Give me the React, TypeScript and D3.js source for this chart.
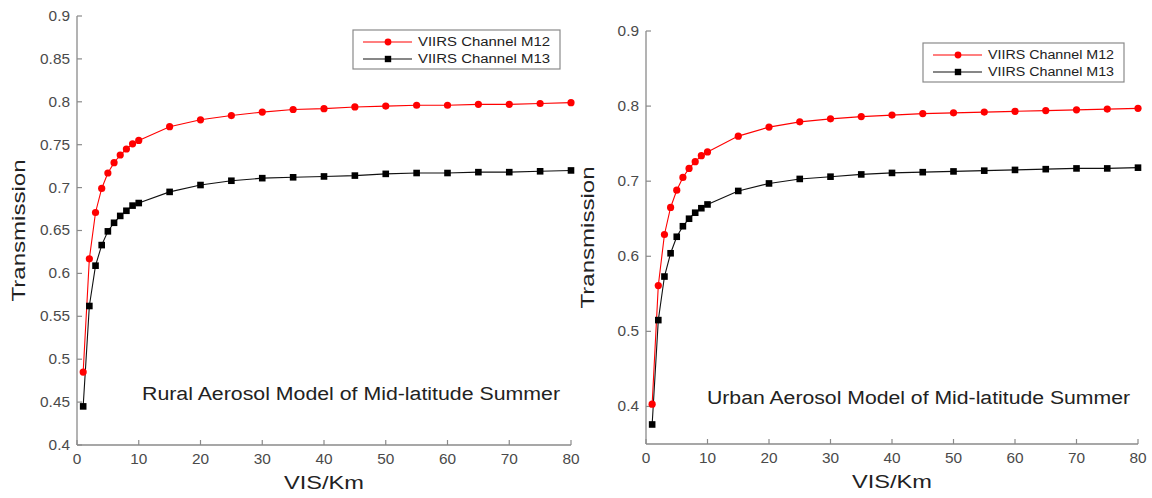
import * as d3 from "d3"

const visKm = [1, 2, 3, 4, 5, 6, 7, 8, 9, 10, 15, 20, 25, 30, 35, 40, 45, 50, 55, 60, 65, 70, 75, 80]

// Rural aerosol, mid-latitude summer
const ruralM12 = [0.485, 0.617, 0.671, 0.699, 0.717, 0.729, 0.738, 0.745, 0.751, 0.755, 0.771, 0.779, 0.784, 0.788, 0.791, 0.792, 0.794, 0.795, 0.796, 0.796, 0.797, 0.797, 0.798, 0.799]
const ruralM13 = [0.445, 0.562, 0.609, 0.633, 0.649, 0.659, 0.667, 0.673, 0.679, 0.682, 0.695, 0.703, 0.708, 0.711, 0.712, 0.713, 0.714, 0.716, 0.717, 0.717, 0.718, 0.718, 0.719, 0.720]

// Urban aerosol, mid-latitude summer
const urbanM12 = [0.403, 0.561, 0.629, 0.665, 0.688, 0.705, 0.717, 0.726, 0.734, 0.739, 0.760, 0.772, 0.779, 0.783, 0.786, 0.788, 0.790, 0.791, 0.792, 0.793, 0.794, 0.795, 0.796, 0.797]
const urbanM13 = [0.376, 0.515, 0.573, 0.604, 0.626, 0.640, 0.650, 0.658, 0.664, 0.669, 0.687, 0.697, 0.703, 0.706, 0.709, 0.711, 0.712, 0.713, 0.714, 0.715, 0.716, 0.717, 0.717, 0.718]

const xTicks = [0, 10, 20, 30, 40, 50, 60, 70, 80]
const ruralYTicks = [0.4, 0.45, 0.5, 0.55, 0.6, 0.65, 0.7, 0.75, 0.8, 0.85, 0.9]
const urbanYTicks = [0.4, 0.5, 0.6, 0.7, 0.8, 0.9]

const seriesNames = ["VIIRS Channel M12", "VIIRS Channel M13"]
const font = "'Liberation Sans', Arial, sans-serif"

interface PanelProps {
  x0: number
  x1: number
  yTop: number
  yBottom: number
  yDomain: [number, number]
  yTicks: number[]
  m12: number[]
  m13: number[]
  note: string
  noteX: number
  noteY: number
  noteWidth: number
  legendX: number
  legendY: number
  legendW: number
}

function Panel(p: PanelProps) {
  const x = d3.scaleLinear().domain([0, 80]).range([p.x0, p.x1])
  const y = d3.scaleLinear().domain(p.yDomain).range([p.yBottom, p.yTop])
  const line = d3
    .line<number>()
    .x((_, i) => x(visKm[i]))
    .y((d) => y(d))

  const axisColor = "#8a8a8a"
  const tickText = "#4a4a4a"

  return (
    <g fontFamily={font}>
      {/* ejes */}
      <line x1={p.x0} x2={p.x0} y1={p.yTop} y2={p.yBottom} stroke={axisColor} strokeWidth={1.3} />
      <line x1={p.x0} x2={p.x1} y1={p.yBottom} y2={p.yBottom} stroke={axisColor} strokeWidth={1.3} />
      {p.yTicks.map((t) => (
        <g key={"y" + t}>
          <line x1={p.x0} x2={p.x0 + 5} y1={y(t)} y2={y(t)} stroke={axisColor} strokeWidth={1.2} />
          <text
            transform={`translate(${p.x0 - 7},${y(t)}) scale(1.1,1)`}
            dy="0.35em"
            textAnchor="end"
            fontSize={14}
            fill={tickText}
          >
            {t}
          </text>
        </g>
      ))}
      {xTicks.map((t) => (
        <g key={"x" + t}>
          <line x1={x(t)} x2={x(t)} y1={p.yBottom} y2={p.yBottom - 5} stroke={axisColor} strokeWidth={1.2} />
          <text
            transform={`translate(${x(t)},${p.yBottom + 14}) scale(1.1,1)`}
            dy="0.35em"
            textAnchor="middle"
            fontSize={14}
            fill={tickText}
          >
            {t}
          </text>
        </g>
      ))}
      <text
        x={(p.x0 + p.x1) / 2 - 40}
        y={p.yBottom + 44}
        fontSize={18.5}
        fill="#222"
        textLength={80}
        lengthAdjust="spacingAndGlyphs"
      >
        VIS/Km
      </text>
      <text
        transform={`translate(${p.x0 - 52},${(p.yTop + p.yBottom) / 2 + 71}) rotate(-90)`}
        fontSize={19}
        fill="#222"
        textLength={142}
        lengthAdjust="spacingAndGlyphs"
      >
        Transmission
      </text>

      {/* series */}
      <path d={line(p.m12) ?? ""} fill="none" stroke="#ff0000" strokeWidth={1.1} />
      <path d={line(p.m13) ?? ""} fill="none" stroke="#111" strokeWidth={1.1} />
      {p.m12.map((v, i) => (
        <circle key={"r" + i} cx={x(visKm[i])} cy={y(v)} r={3.6} fill="#ff0000" />
      ))}
      {p.m13.map((v, i) => (
        <rect key={"b" + i} x={x(visKm[i]) - 3.3} y={y(v) - 3.3} width={6.6} height={6.6} fill="#000" />
      ))}

      <text
        x={p.noteX}
        y={p.noteY}
        fontSize={18}
        fill="#222"
        textLength={p.noteWidth}
        lengthAdjust="spacingAndGlyphs"
      >
        {p.note}
      </text>

      {/* leyenda */}
      <g transform={`translate(${p.legendX},${p.legendY})`}>
        <rect x={0} y={0} width={p.legendW} height={39} fill="#fff" stroke="#8a8a8a" strokeWidth={1.2} />
        {seriesNames.map((name, i) => {
          const ly = 12 + i * 17
          const color = i === 0 ? "#ff0000" : "#111"
          return (
            <g key={name}>
              <line x1={10} x2={59} y1={ly} y2={ly} stroke={color} strokeWidth={1.1} />
              {i === 0 ? (
                <circle cx={35} cy={ly} r={3.4} fill="#ff0000" />
              ) : (
                <rect x={31.8} y={ly - 3.2} width={6.4} height={6.4} fill="#000" />
              )}
              <text
                x={65}
                y={ly}
                dy="0.35em"
                fontSize={12.5}
                fill="#222"
                textLength={p.legendW - 75}
                lengthAdjust="spacingAndGlyphs"
              >
                {name}
              </text>
            </g>
          )
        })}
      </g>
    </g>
  )
}

export default function App() {
  return (
    <svg
      width={1152}
      height={498}
      viewBox="0 0 1152 498"
      style={{ position: "absolute", left: 0, top: 0, background: "#fff" }}
    >
      <rect width={1152} height={498} fill="#fff" />
      <Panel
        x0={77}
        x1={571}
        yTop={16}
        yBottom={445}
        yDomain={[0.4, 0.9]}
        yTicks={ruralYTicks}
        m12={ruralM12}
        m13={ruralM13}
        note="Rural Aerosol Model of Mid-latitude Summer"
        noteX={142}
        noteY={400}
        noteWidth={418}
        legendX={353}
        legendY={30}
        legendW={207}
      />
      <Panel
        x0={646}
        x1={1138}
        yTop={31}
        yBottom={444}
        yDomain={[0.35, 0.9]}
        yTicks={urbanYTicks}
        m12={urbanM12}
        m13={urbanM13}
        note="Urban Aerosol Model of Mid-latitude Summer"
        noteX={707}
        noteY={404}
        noteWidth={423}
        legendX={923}
        legendY={43}
        legendW={201}
      />
    </svg>
  )
}
